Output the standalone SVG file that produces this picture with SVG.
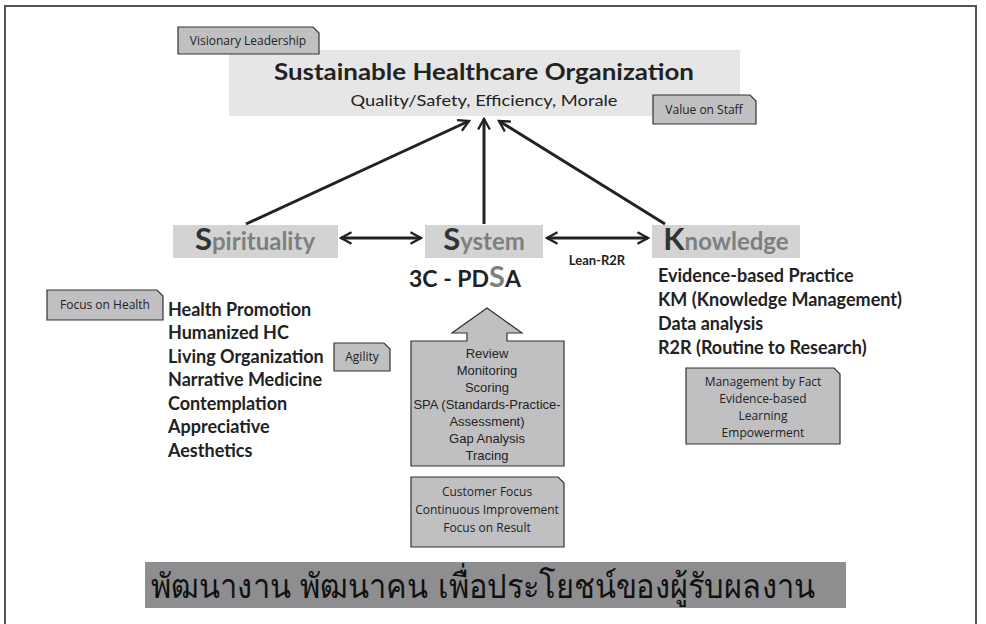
<svg xmlns="http://www.w3.org/2000/svg" width="986" height="624" viewBox="0 0 986 624">
<defs>
<style>
.frame{fill:none;stroke:#555;stroke-width:2}
.tag{fill:#c0c0c2;stroke:#333;stroke-width:1.2}
.tagt{font-family:"Open Sans","Lato","Liberation Sans",sans-serif;font-size:12px;fill:#222;text-anchor:middle}
.arial{font-family:"Liberation Sans",Arial,sans-serif;font-size:13px;fill:#222;text-anchor:middle}
.calb{font-family:"Lato","Liberation Sans",sans-serif;font-weight:bold;fill:#222}
.pill{fill:#d3d3d3}
.big{font-family:"Lato","Liberation Sans",sans-serif;font-weight:bold;font-size:31px;fill:#333}
.rest{font-family:"Lato","Liberation Sans",sans-serif;font-weight:bold;font-size:24px;fill:#7f7f7f}
.conn{stroke:#222;stroke-width:3;fill:none}
</style>
<marker id="ah" viewBox="0 0 12 12" refX="10" refY="6" markerWidth="14" markerHeight="14" markerUnits="userSpaceOnUse" orient="auto-start-reverse">
<path d="M1,1 L10,6 L1,11" fill="none" stroke="#222" stroke-width="2"/>
</marker>
</defs>
<rect x="0" y="0" width="986" height="624" fill="#fff"/>
<path class="frame" d="M5,630 V6 H976 V630"/>

<g id="goal">
<rect x="229" y="50" width="511" height="66" fill="#e6e6e6"/>
<text x="484" y="80" text-anchor="middle" class="calb" font-size="23" textLength="420" lengthAdjust="spacingAndGlyphs">Sustainable Healthcare Organization</text>
<text x="484" y="106" text-anchor="middle" font-family="Lato,'Liberation Sans',sans-serif" font-size="16" fill="#222" textLength="267" lengthAdjust="spacingAndGlyphs">Quality/Safety, Efficiency, Morale</text>
</g>

<g id="visionary">
<path class="tag" d="M178,27 H313 L319,33 V54 H178 Z"/>
<text x="248" y="45" class="tagt">Visionary Leadership</text>
</g>

<g id="valuestaff">
<path class="tag" d="M653,95 H750 L756,101 V124 H653 Z"/>
<text x="704" y="114" class="tagt">Value on Staff</text>
</g>

<g id="spirituality">
<rect class="pill" x="173" y="225" width="165" height="33"/>
<text x="255" y="250" text-anchor="middle"><tspan class="big">S</tspan><tspan class="rest">pirituality</tspan></text>
</g>

<g id="system">
<rect class="pill" x="425" y="225" width="118" height="33"/>
<text x="484" y="250" text-anchor="middle"><tspan class="big">S</tspan><tspan class="rest">ystem</tspan></text>
</g>

<g id="knowledge">
<rect class="pill" x="652" y="225" width="148" height="33"/>
<text x="726" y="250" text-anchor="middle"><tspan class="big">K</tspan><tspan class="rest">nowledge</tspan></text>
</g>

<g id="connectors">
<line class="conn" x1="246" y1="224" x2="469" y2="121" marker-end="url(#ah)"/>
<line class="conn" x1="484" y1="224" x2="484" y2="119" marker-end="url(#ah)"/>
<line class="conn" x1="665" y1="224" x2="499" y2="121" marker-end="url(#ah)"/>
<line class="conn" x1="341" y1="238" x2="421" y2="238" marker-start="url(#ah)" marker-end="url(#ah)"/>
<line class="conn" x1="547" y1="238" x2="648" y2="238" marker-start="url(#ah)" marker-end="url(#ah)"/>
</g>

<g id="lean">
<text x="597" y="265" text-anchor="middle" class="calb" font-size="13">Lean-R2R</text>
</g>

<g id="pdsa">
<text x="465" y="287" text-anchor="middle" class="calb" font-size="23" fill="#222">3C - PD<tspan font-size="29" fill="#7f7f7f">S</tspan>A</text>
</g>

<g id="focushealth">
<path class="tag" d="M47,290 H157 L163,296 V320 H47 Z"/>
<text x="105" y="309" class="tagt">Focus on Health</text>
</g>

<g id="leftlist" class="calb" font-size="18">
<text x="168" y="316">Health Promotion</text>
<text x="168" y="339">Humanized HC</text>
<text x="168" y="363">Living Organization</text>
<text x="168" y="386">Narrative Medicine</text>
<text x="168" y="410">Contemplation</text>
<text x="168" y="433">Appreciative</text>
<text x="168" y="457">Aesthetics</text>
</g>

<g id="agility">
<path class="tag" d="M334,343 H384 L390,349 V371 H334 Z"/>
<text x="362" y="361" class="tagt">Agility</text>
</g>

<g id="rightlist" class="calb" font-size="18">
<text x="658" y="282">Evidence-based Practice</text>
<text x="658" y="306">KM (Knowledge Management)</text>
<text x="658" y="330">Data analysis</text>
<text x="658" y="354">R2R (Routine to Research)</text>
</g>

<g id="mgmt">
<path class="tag" d="M686,368 H834 L840,374 V444 H686 Z"/>
<text x="763" y="386" class="tagt">Management by Fact</text>
<text x="763" y="403" class="tagt">Evidence-based</text>
<text x="763" y="420" class="tagt">Learning</text>
<text x="763" y="437" class="tagt">Empowerment</text>
</g>

<g id="review">
<path class="tag" d="M411,341 H467 V333 H452 L487,308 L522,333 H507 V341 H564 V466 H411 Z"/>
<text x="487" y="358" class="arial">Review</text>
<text x="487" y="375" class="arial">Monitoring</text>
<text x="487" y="392" class="arial">Scoring</text>
<text x="487" y="409" class="arial">SPA (Standards-Practice-</text>
<text x="487" y="426" class="arial">Assessment)</text>
<text x="487" y="443" class="arial">Gap Analysis</text>
<text x="487" y="460" class="arial">Tracing</text>
</g>

<g id="customer">
<path class="tag" d="M411,477 H558 L564,483 V547 H411 Z"/>
<text x="487" y="496" class="tagt" font-size="11.2">Customer Focus</text>
<text x="487" y="514" class="tagt" font-size="11.2">Continuous Improvement</text>
<text x="487" y="532" class="tagt" font-size="11.2">Focus on Result</text>
</g>

<g id="banner">
<rect x="145" y="562" width="701" height="46" fill="#8e8e90"/>
<text x="151" y="598" font-family="'DejaVu Sans','Noto Sans',sans-serif" font-size="34" fill="#111" textLength="664" lengthAdjust="spacingAndGlyphs">พัฒนางาน พัฒนาคน เพื่อประโยชน์ของผู้รับผลงาน</text>
</g>
</svg>
